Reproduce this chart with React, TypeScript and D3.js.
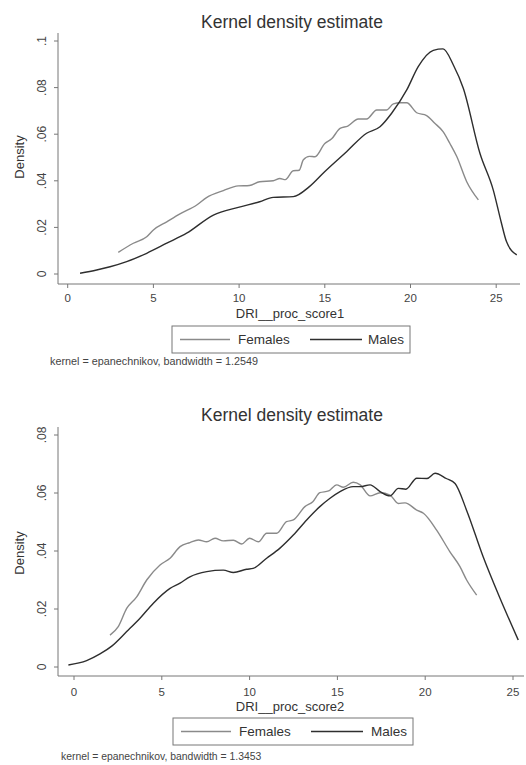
import React from "react";
import * as d3 from "d3";

// ---------- data ----------
const xTicks = [0, 5, 10, 15, 20, 25];
const yTicks1 = [0, 0.02, 0.04, 0.06, 0.08, 0.1];
const yTicks2 = [0, 0.02, 0.04, 0.06, 0.08];
const legendLabels = ["Females", "Males"];
const titles = ["Kernel density estimate", "Kernel density estimate"];
const xTitles = ["DRI__proc_score1", "DRI__proc_score2"];
const notes = [
  "kernel = epanechnikov, bandwidth = 1.2549",
  "kernel = epanechnikov, bandwidth = 1.3453",
];

// panel 1
const p1Females: [number, number][] = [
  [2.95, 0.0093], [3.83, 0.0132], [4.61, 0.016], [5.0, 0.0189], [5.78, 0.0224],
  [6.55, 0.0258], [7.53, 0.0296], [8.1, 0.0328], [9.08, 0.0358], [9.95, 0.0378],
  [10.6, 0.038], [11.2, 0.0396], [11.99, 0.04], [12.38, 0.041], [12.7, 0.0405],
  [13.16, 0.0443], [13.5, 0.0445], [13.75, 0.049], [14.1, 0.0505], [14.43, 0.0503],
  [15.0, 0.056], [15.4, 0.058], [15.89, 0.0625], [16.34, 0.0635], [16.95, 0.0665],
  [17.44, 0.0665], [18.03, 0.0704], [18.6, 0.0704], [19.0, 0.073], [19.4, 0.0735],
  [19.78, 0.0735], [20.36, 0.0692], [20.94, 0.068], [21.4, 0.0648], [21.9, 0.0611],
  [22.3, 0.056], [22.7, 0.0504], [23.28, 0.0396], [23.96, 0.0318],
];
const p1Males: [number, number][] = [
  [0.72, 0.0003], [1.69, 0.0017], [2.47, 0.0031], [3.44, 0.0053], [4.61, 0.0089],
  [5.78, 0.0132], [6.94, 0.0175], [8.5, 0.0253], [9.95, 0.0286], [11.2, 0.031],
  [11.99, 0.0329], [13.16, 0.0332], [14.1, 0.0375], [14.99, 0.0439], [16.27, 0.0525],
  [17.44, 0.0604], [18.22, 0.0632], [18.9, 0.069], [19.78, 0.079], [20.45, 0.089],
  [21.33, 0.096], [21.9, 0.0966], [22.5, 0.0897], [23.08, 0.0797], [24.05, 0.0518],
  [24.83, 0.036], [25.3, 0.022], [25.6, 0.0139], [26.2, 0.0082],
];

// panel 2
const p2Females: [number, number][] = [
  [2.05, 0.011], [2.52, 0.0139], [3.0, 0.0202], [3.57, 0.0242], [4.14, 0.03],
  [4.9, 0.0352], [5.47, 0.0375], [6.04, 0.0415], [6.6, 0.0429], [7.08, 0.0438],
  [7.56, 0.0432], [8.03, 0.0444], [8.5, 0.0435], [9.08, 0.0437], [9.55, 0.0424],
  [10.0, 0.0444], [10.5, 0.0432], [10.97, 0.0461], [11.54, 0.0461], [12.1, 0.0501],
  [12.49, 0.0507], [13.15, 0.0553], [13.6, 0.057], [14.0, 0.0601], [14.5, 0.0607],
  [14.96, 0.0628], [15.34, 0.062], [15.9, 0.0637], [16.3, 0.0628], [16.86, 0.059],
  [17.43, 0.0601], [18.0, 0.0593], [18.47, 0.0564], [18.85, 0.0566], [19.52, 0.0541],
  [19.9, 0.053], [20.65, 0.0472], [21.4, 0.0398], [21.98, 0.0346], [22.36, 0.03],
  [22.93, 0.0248],
];
const p2Males: [number, number][] = [
  [-0.32, 0.0007], [0.72, 0.0022], [1.48, 0.0045], [2.15, 0.0072], [3.0, 0.0122],
  [3.76, 0.0168], [4.52, 0.022], [5.47, 0.0271], [6.04, 0.0289], [6.6, 0.0311],
  [7.56, 0.0329], [8.5, 0.0334], [9.08, 0.0326], [9.83, 0.0337], [10.2, 0.034],
  [10.97, 0.0375], [11.73, 0.041], [12.49, 0.0455], [13.25, 0.0507], [14.0, 0.0553],
  [14.58, 0.0582], [15.15, 0.0605], [15.9, 0.0622], [16.3, 0.0622], [16.86, 0.0628],
  [17.43, 0.0605], [18.0, 0.059], [18.47, 0.0616], [18.9, 0.0613], [19.52, 0.0651],
  [20.1, 0.065], [20.56, 0.0668], [21.2, 0.065], [21.7, 0.0633], [22.36, 0.054],
  [23.3, 0.038], [24.26, 0.0237], [25.3, 0.0093],
];

const FEMALE_COLOR = "#8a8a8a";
const MALE_COLOR = "#2e2e2e";
const FONT = "'Liberation Sans', Arial, sans-serif";

function fmtY(v: number) {
  if (v === 0) return "0";
  return d3.format(".2~f")(v).replace(/^0/, "");
}

type PanelProps = {
  xRange: [number, number];
  yDomainMax: number;
  yRange: [number, number];
  yTicks: number[];
  axisTop: number;
  axisBottom: number;
  axisRight: number;
  females: [number, number][];
  males: [number, number][];
  title: string;
  titleY: number;
  xTitle: string;
  xTitleY: number;
  tickLabelY: number;
  legendBox: [number, number, number, number];
  note: string;
  noteX: number;
  noteY: number;
  noteSize: number;
  densityY: number;
};

function Panel(p: PanelProps) {
  const x = d3.scaleLinear().domain([0, 25]).range(p.xRange);
  const y = d3.scaleLinear().domain([0, p.yDomainMax]).range(p.yRange);
  const line = d3
    .line<[number, number]>()
    .x((d) => x(d[0]))
    .y((d) => y(d[1]))
    .curve(d3.curveMonotoneX);
  const axisX = 58;
  const [lx, ly, lw, lh] = p.legendBox;
  const midY = ly + lh / 2;
  return (
    <g fontFamily={FONT} fill="#333">
      <text x={292} y={p.titleY} fontSize={17.5} textAnchor="middle">
        {p.title}
      </text>
      {/* y axis */}
      <line x1={axisX} x2={axisX} y1={p.axisTop} y2={p.axisBottom} stroke="#777" strokeWidth={1} />
      {p.yTicks.map((t) => (
        <g key={t}>
          <line x1={axisX - 4} x2={axisX} y1={y(t)} y2={y(t)} stroke="#777" />
          <text
            transform={`translate(${axisX - 12},${y(t)}) rotate(-90)`}
            fontSize={12}
            textAnchor="middle"
            fill="#444"
          >
            {fmtY(t)}
          </text>
        </g>
      ))}
      <text
        transform={`translate(24,${p.densityY}) rotate(-90)`}
        fontSize={13}
        textAnchor="middle"
        fill="#333"
      >
        Density
      </text>
      {/* x axis */}
      <line x1={axisX} x2={p.axisRight} y1={p.axisBottom} y2={p.axisBottom} stroke="#777" />
      {xTicks.map((t) => (
        <g key={t}>
          <line x1={x(t)} x2={x(t)} y1={p.axisBottom} y2={p.axisBottom + 4} stroke="#777" />
          <text x={x(t)} y={p.tickLabelY} fontSize={11.5} textAnchor="middle" fill="#444">
            {t}
          </text>
        </g>
      ))}
      <text x={290} y={p.xTitleY} fontSize={13} textAnchor="middle">
        {p.xTitle}
      </text>
      {/* curves */}
      <path d={line(p.females) || ""} fill="none" stroke={FEMALE_COLOR} strokeWidth={1.4} />
      <path d={line(p.males) || ""} fill="none" stroke={MALE_COLOR} strokeWidth={1.4} />
      {/* legend */}
      <rect x={lx} y={ly} width={lw} height={lh} fill="white" stroke="#777" strokeWidth={1} />
      <line x1={lx + 8} x2={lx + 58} y1={midY} y2={midY} stroke={FEMALE_COLOR} strokeWidth={1.4} />
      <text x={lx + 66} y={midY + 4.5} fontSize={13.5}>
        {legendLabels[0]}
      </text>
      <line x1={lx + 138} x2={lx + 190} y1={midY} y2={midY} stroke={MALE_COLOR} strokeWidth={1.4} />
      <text x={lx + lw - 6} y={midY + 4.5} fontSize={13.5} textAnchor="end">
        {legendLabels[1]}
      </text>
      <text x={p.noteX} y={p.noteY} fontSize={p.noteSize} fill="#444">
        {p.note}
      </text>
    </g>
  );
}

export default function App() {
  return (
    <svg
      width={526}
      height={765}
      style={{ position: "absolute", left: 0, top: 0, background: "white" }}
    >
      <rect width={526} height={765} fill="white" />
      <Panel
        xRange={[67.7, 496.2]}
        yDomainMax={0.1}
        yRange={[274, 41]}
        yTicks={yTicks1}
        axisTop={33}
        axisBottom={284}
        axisRight={520}
        females={p1Females}
        males={p1Males}
        title={titles[0]}
        titleY={28}
        xTitle={xTitles[0]}
        xTitleY={318}
        tickLabelY={302}
        legendBox={[172, 326, 238, 27]}
        note={notes[0]}
        noteX={50}
        noteY={365}
        noteSize={10.8}
        densityY={157}
      />
      <Panel
        xRange={[74, 513]}
        yDomainMax={0.08}
        yRange={[667, 435]}
        yTicks={yTicks2}
        axisTop={427}
        axisBottom={676}
        axisRight={524}
        females={p2Females}
        males={p2Males}
        title={titles[1]}
        titleY={421}
        xTitle={xTitles[1]}
        xTitleY={711}
        tickLabelY={696}
        legendBox={[173, 718, 240, 27]}
        note={notes[1]}
        noteX={61}
        noteY={760}
        noteSize={10.4}
        densityY={553}
      />
    </svg>
  );
}
